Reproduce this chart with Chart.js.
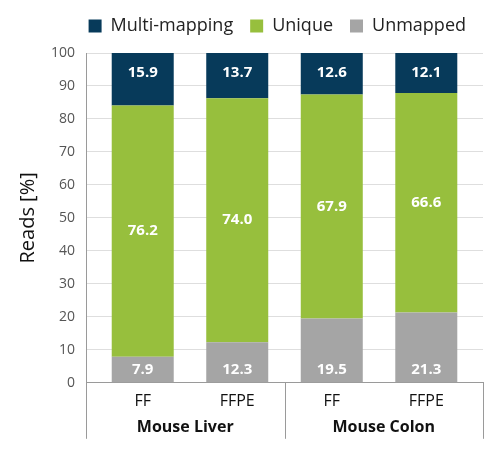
<!DOCTYPE html>
<html>
<head>
<meta charset="utf-8">
<script src="https://cdn.jsdelivr.net/npm/chart.js@4/dist/chart.umd.min.js"></script>
<style>
  body { margin: 0; background: #fff; }
  #wrap { width: 500px; height: 451px; }
</style>
</head>
<body>
<div id="wrap"><canvas id="Canvas"></canvas></div>
<script>
// dados
let amostras = ["FF", "FFPE", "FF", "FFPE"];
let grupos = ["Mouse Liver", "Mouse Colon"];
let unmapped = [7.9, 12.3, 19.5, 21.3];
let unique = [76.2, 74.0, 67.9, 66.6];
let multiMapping = [15.9, 13.7, 12.6, 12.1];
let yTicks = [0, 10, 20, 30, 40, 50, 60, 70, 80, 90, 100];

let fonte = "'Open Sans', 'Noto Sans', sans-serif";

// espaco extra abaixo da legenda
let espacoLegenda = {
  id: "espacoLegenda",
  beforeInit(chart) {
    let fitOriginal = chart.legend.fit;
    chart.legend.fit = function () {
      fitOriginal.bind(chart.legend)();
      this.height += 8;
    };
  }
};

// rotulos brancos dentro das barras
let rotulosPlugin = {
  id: "rotulos",
  afterDatasetsDraw(chart) {
    let ctx = chart.ctx;
    ctx.save();
    ctx.fillStyle = "#ffffff";
    ctx.font = "bold 15px " + fonte;
    ctx.textAlign = "center";
    ctx.textBaseline = "middle";
    chart.data.datasets.forEach((ds, i) => {
      let meta = chart.getDatasetMeta(i);
      meta.data.forEach((bar, j) => {
        let v = ds.data[j];
        let y;
        if (i === 0) y = bar.base - 13;          // unmapped: perto da base
        else if (i === 2) y = bar.y + 20;        // multi: perto do topo
        else y = (bar.y + bar.base) / 2;
        ctx.fillText(v.toFixed(1), bar.x, y);
      });
    });
    ctx.restore();
  }
};

// eixo x em dois niveis
let gruposPlugin = {
  id: "grupos",
  afterDraw(chart) {
    let ctx = chart.ctx;
    let x = chart.scales.x;
    let area = chart.chartArea;
    ctx.save();
    ctx.strokeStyle = "#9a9a9a";
    ctx.lineWidth = 1;
    let meio = (x.getPixelForValue(1) + x.getPixelForValue(2)) / 2;
    let divisoes = [x.left, meio, x.right];
    divisoes.forEach(px => {
      ctx.beginPath();
      ctx.moveTo(Math.round(px) + 0.5, area.bottom);
      ctx.lineTo(Math.round(px) + 0.5, area.bottom + 56);
      ctx.stroke();
    });
    ctx.fillStyle = "#111111";
    ctx.font = "bold 16px " + fonte;
    ctx.textAlign = "center";
    ctx.textBaseline = "middle";
    grupos.forEach((g, k) => {
      let cx = (divisoes[k] + divisoes[k + 1]) / 2;
      ctx.fillText(g, cx, area.bottom + 45);
    });
    ctx.restore();
  }
};

new Chart(document.getElementById("Canvas").getContext("2d"), {
  type: "bar",
  data: {
    labels: amostras,
    datasets: [
      { label: "Unmapped", data: unmapped, backgroundColor: "#a5a5a5" },
      { label: "Unique", data: unique, backgroundColor: "#97bf3d" },
      { label: "Multi-mapping", data: multiMapping, backgroundColor: "#073a5a" }
    ]
  },
  options: {
    responsive: true,
    maintainAspectRatio: false,
    animation: false,
    devicePixelRatio: 1,
    barPercentage: 0.656,
    categoryPercentage: 1,
    layout: { padding: { left: 0, right: 17, top: 0, bottom: 39 } },
    scales: {
      x: {
        stacked: true,
        // margem um pouco maior nas pontas, como no original
        afterBuildTicks(axis) {
          axis._startValue = -0.6;
          axis._valueRange = amostras.length + 0.2;
        },
        grid: { display: false },
        border: { display: true, color: "#9a9a9a" },
        ticks: { color: "#111111", font: { family: fonte, size: 16 }, padding: 1 }
      },
      y: {
        stacked: true,
        min: 0,
        max: 100,
        afterBuildTicks(axis) { axis.ticks = yTicks.map(v => ({ value: v })); },
        grid: { color: "#dedede", drawTicks: false },
        border: { display: true, color: "#9a9a9a" },
        ticks: { color: "#555555", font: { family: fonte, size: 14 }, padding: 11 },
        title: { display: true, text: "Reads [%]", color: "#111111", font: { family: fonte, size: 20 }, padding: { top: 16, bottom: 0 } }
      }
    },
    plugins: {
      legend: {
        position: "top",
        fullSize: true,
        align: "end",
        reverse: true,
        labels: {
          boxWidth: 13,
          boxHeight: 13,
          padding: 17,
          color: "#222222",
          font: { family: fonte, size: 18 }
        }
      },
      tooltip: { enabled: false }
    }
  },
  plugins: [espacoLegenda, rotulosPlugin, gruposPlugin]
});
</script>
</body>
</html>
